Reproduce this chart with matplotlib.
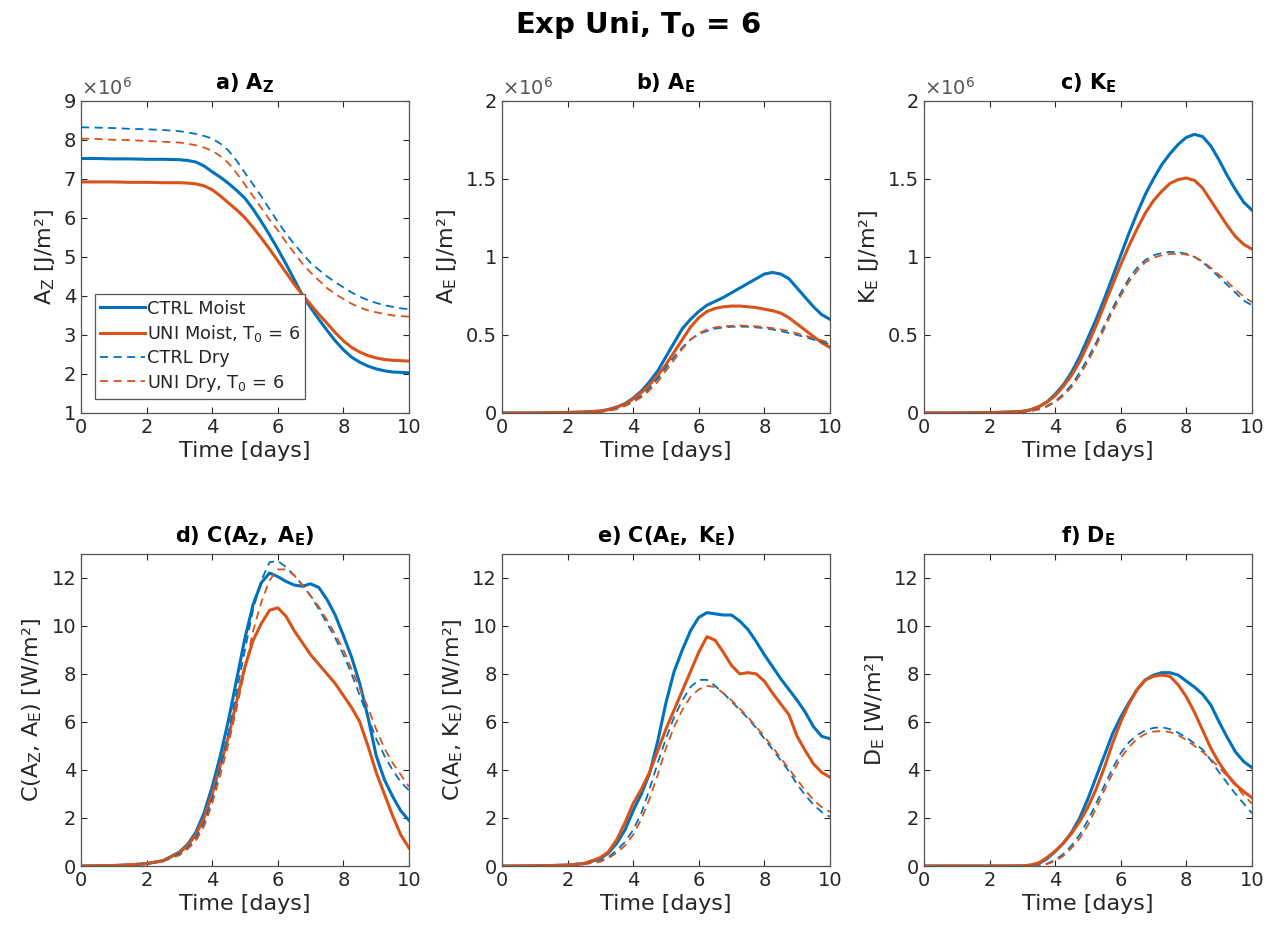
import numpy as np
import matplotlib
matplotlib.use("Agg")
import matplotlib.pyplot as plt
from matplotlib.ticker import FuncFormatter

# Energy cycle diagnostics, CTRL vs UNI runs (moist and dry), T0 = 6

time = [0, 0.5, 1, 1.5, 2, 2.5,
        3, 3.25, 3.5, 3.75, 4, 4.25, 4.5, 4.75, 5, 5.25, 5.5, 5.75,
        6, 6.25, 6.5, 6.75, 7, 7.25, 7.5, 7.75, 8, 8.25, 8.5, 8.75,
        9, 9.25, 9.5, 9.75, 10]

# a) zonal available potential energy, units of 1e6 J/m2
az_ctrl_moist = [7.52, 7.52, 7.51, 7.51, 7.50, 7.50,
                 7.49, 7.47, 7.43, 7.33, 7.18, 7.04, 6.88, 6.70, 6.50, 6.22, 5.90, 5.56,
                 5.20, 4.82, 4.42, 4.02, 3.70, 3.40, 3.12, 2.85, 2.62, 2.43, 2.30, 2.20,
                 2.13, 2.08, 2.05, 2.04, 2.03]
az_uni_moist = [6.92, 6.92, 6.92, 6.91, 6.91, 6.90,
                6.90, 6.89, 6.87, 6.82, 6.72, 6.56, 6.38, 6.20, 6.00, 5.75, 5.48, 5.20,
                4.90, 4.60, 4.30, 4.03, 3.78, 3.53, 3.30, 3.06, 2.85, 2.68, 2.56, 2.47,
                2.41, 2.37, 2.35, 2.34, 2.33]
az_ctrl_dry = [8.32, 8.31, 8.30, 8.28, 8.27, 8.25,
               8.22, 8.19, 8.15, 8.10, 8.03, 7.90, 7.72, 7.46, 7.15, 6.85, 6.55, 6.22,
               5.90, 5.60, 5.33, 5.08, 4.85, 4.67, 4.50, 4.35, 4.22, 4.09, 3.98, 3.89,
               3.82, 3.76, 3.72, 3.68, 3.66]
az_uni_dry = [8.03, 8.02, 8.00, 7.99, 7.97, 7.95,
              7.93, 7.90, 7.86, 7.80, 7.72, 7.58, 7.40, 7.14, 6.85, 6.55, 6.25, 5.95,
              5.68, 5.38, 5.10, 4.83, 4.60, 4.40, 4.20, 4.05, 3.92, 3.80, 3.70, 3.63,
              3.58, 3.54, 3.50, 3.48, 3.47]

# b) eddy available potential energy, units of 1e6 J/m2
ae_ctrl_moist = [0, 0, 0, 0.001, 0.003, 0.006,
                 0.012, 0.022, 0.038, 0.06, 0.095, 0.14, 0.20, 0.27, 0.36, 0.45, 0.54, 0.60,
                 0.65, 0.69, 0.715, 0.74, 0.77, 0.80, 0.83, 0.86, 0.89, 0.90, 0.89, 0.86,
                 0.80, 0.74, 0.68, 0.63, 0.60]
ae_uni_moist = [0, 0, 0, 0.001, 0.003, 0.006,
                0.012, 0.022, 0.036, 0.058, 0.09, 0.13, 0.18, 0.24, 0.31, 0.39, 0.47, 0.55,
                0.61, 0.65, 0.67, 0.68, 0.685, 0.685, 0.68, 0.675, 0.665, 0.655, 0.64, 0.61,
                0.57, 0.53, 0.49, 0.45, 0.42]
ae_ctrl_dry = [0, 0, 0, 0, 0.002, 0.004,
               0.008, 0.015, 0.028, 0.048, 0.075, 0.11, 0.16, 0.22, 0.29, 0.36, 0.42, 0.47,
               0.505, 0.525, 0.54, 0.548, 0.552, 0.553, 0.552, 0.548, 0.543, 0.535, 0.525, 0.512,
               0.50, 0.485, 0.47, 0.455, 0.44]
ae_uni_dry = [0, 0, 0, 0, 0.002, 0.004,
              0.007, 0.013, 0.025, 0.044, 0.07, 0.10, 0.145, 0.20, 0.27, 0.34, 0.41, 0.47,
              0.51, 0.535, 0.548, 0.555, 0.558, 0.56, 0.558, 0.555, 0.55, 0.543, 0.535, 0.523,
              0.51, 0.495, 0.48, 0.465, 0.45]

# c) eddy kinetic energy, units of 1e6 J/m2
ke_ctrl_moist = [0, 0, 0, 0.001, 0.002, 0.005,
                 0.01, 0.02, 0.04, 0.07, 0.12, 0.18, 0.26, 0.36, 0.48, 0.60, 0.73, 0.87,
                 1.01, 1.15, 1.28, 1.40, 1.50, 1.59, 1.66, 1.72, 1.765, 1.785, 1.77, 1.71,
                 1.62, 1.52, 1.43, 1.35, 1.30]
ke_uni_moist = [0, 0, 0, 0.001, 0.002, 0.005,
                0.01, 0.02, 0.04, 0.07, 0.11, 0.17, 0.24, 0.33, 0.44, 0.56, 0.69, 0.82,
                0.95, 1.07, 1.18, 1.28, 1.36, 1.42, 1.47, 1.495, 1.505, 1.49, 1.44, 1.36,
                1.28, 1.20, 1.13, 1.08, 1.05]
ke_ctrl_dry = [0, 0, 0, 0, 0.001, 0.003,
               0.007, 0.013, 0.025, 0.045, 0.075, 0.12, 0.18, 0.26, 0.35, 0.45, 0.56, 0.67,
               0.77, 0.86, 0.93, 0.98, 1.01, 1.025, 1.032, 1.03, 1.02, 1.00, 0.965, 0.92,
               0.87, 0.82, 0.77, 0.72, 0.69]
ke_uni_dry = [0, 0, 0, 0, 0.001, 0.003,
              0.006, 0.012, 0.022, 0.04, 0.068, 0.11, 0.165, 0.24, 0.33, 0.43, 0.54, 0.65,
              0.75, 0.84, 0.91, 0.965, 0.995, 1.01, 1.018, 1.02, 1.015, 1.00, 0.97, 0.93,
              0.885, 0.84, 0.79, 0.745, 0.71]

# d) conversion Az -> Ae, W/m2
caz_ctrl_moist = [0, 0.01, 0.02, 0.05, 0.10, 0.22,
                  0.58, 0.90, 1.40, 2.20, 3.30, 4.60, 6.10, 7.80, 9.50, 10.9, 11.8, 12.2,
                  12.05, 11.85, 11.7, 11.65, 11.75, 11.6, 11.1, 10.45, 9.6, 8.7, 7.6, 6.2,
                  4.6, 3.6, 2.9, 2.3, 1.9]
caz_uni_moist = [0, 0.01, 0.02, 0.05, 0.10, 0.22,
                 0.55, 0.85, 1.30, 2.00, 3.00, 4.20, 5.40, 6.90, 8.30, 9.40, 10.1, 10.65,
                 10.75, 10.4, 9.8, 9.3, 8.8, 8.4, 8.0, 7.6, 7.1, 6.6, 6.0, 5.0,
                 3.9, 3.0, 2.1, 1.3, 0.75]
caz_ctrl_dry = [0, 0.01, 0.02, 0.04, 0.09, 0.20,
                0.50, 0.75, 1.15, 1.80, 2.80, 4.10, 5.60, 7.30, 9.00, 10.7, 11.9, 12.65,
                12.7, 12.45, 12.1, 11.7, 11.25, 10.7, 10.1, 9.5, 8.8, 8.0, 7.1, 6.2,
                5.3, 4.6, 4.0, 3.5, 3.15]
caz_uni_dry = [0, 0.01, 0.02, 0.04, 0.09, 0.20,
               0.45, 0.70, 1.05, 1.65, 2.60, 3.80, 5.10, 6.60, 8.20, 9.80, 11.0, 11.9,
               12.35, 12.35, 12.1, 11.7, 11.25, 10.8, 10.25, 9.65, 9.0, 8.2, 7.4, 6.6,
               5.7, 4.9, 4.3, 3.8, 3.3]

# e) conversion Ae -> Ke, W/m2
cae_ctrl_moist = [0, 0, 0.01, 0.02, 0.04, 0.10,
                  0.30, 0.55, 0.95, 1.50, 2.30, 3.00, 3.85, 5.20, 6.80, 8.10, 9.00, 9.80,
                  10.35, 10.55, 10.5, 10.45, 10.45, 10.2, 9.85, 9.35, 8.8, 8.3, 7.8, 7.35,
                  6.9, 6.4, 5.8, 5.4, 5.3]
cae_uni_moist = [0, 0, 0.01, 0.02, 0.04, 0.10,
                 0.35, 0.60, 1.10, 1.80, 2.60, 3.20, 3.90, 4.80, 5.70, 6.50, 7.30, 8.10,
                 8.90, 9.55, 9.40, 8.90, 8.35, 8.00, 8.05, 8.00, 7.70, 7.20, 6.75, 6.30,
                 5.40, 4.80, 4.25, 3.90, 3.70]
cae_ctrl_dry = [0, 0, 0, 0.01, 0.03, 0.08,
                0.20, 0.38, 0.65, 1.00, 1.50, 2.20, 3.20, 4.30, 5.30, 6.20, 6.90, 7.45,
                7.75, 7.75, 7.50, 7.20, 6.85, 6.50, 6.15, 5.75, 5.30, 4.85, 4.40, 3.95,
                3.40, 2.95, 2.55, 2.25, 2.05]
cae_uni_dry = [0, 0, 0, 0.01, 0.03, 0.08,
               0.18, 0.33, 0.55, 0.85, 1.30, 1.95, 2.80, 3.80, 4.90, 5.80, 6.50, 7.05,
               7.35, 7.50, 7.45, 7.20, 6.90, 6.55, 6.20, 5.80, 5.40, 4.95, 4.50, 4.05,
               3.60, 3.15, 2.75, 2.45, 2.25]

# f) eddy dissipation, W/m2
de_ctrl_moist = [0, 0, 0, 0, 0, 0,
                 0.005, 0.03, 0.10, 0.30, 0.60, 0.95, 1.40, 2.00, 2.80, 3.70, 4.60, 5.50,
                 6.20, 6.80, 7.35, 7.75, 7.95, 8.05, 8.05, 7.95, 7.70, 7.45, 7.15, 6.70,
                 6.00, 5.35, 4.75, 4.35, 4.10]
de_uni_moist = [0, 0, 0, 0, 0, 0,
                0.005, 0.04, 0.13, 0.35, 0.62, 0.95, 1.35, 1.85, 2.45, 3.20, 4.10, 5.10,
                6.00, 6.75, 7.35, 7.75, 7.90, 7.95, 7.90, 7.55, 7.05, 6.40, 5.65, 4.90,
                4.30, 3.80, 3.40, 3.10, 2.85]
de_ctrl_dry = [0, 0, 0, 0, 0, 0,
               0, 0.01, 0.03, 0.10, 0.25, 0.50, 0.85, 1.30, 1.90, 2.60, 3.35, 4.05,
               4.70, 5.15, 5.45, 5.65, 5.75, 5.78, 5.70, 5.55, 5.35, 5.10, 4.85, 4.40,
               3.90, 3.45, 3.00, 2.60, 2.20]
de_uni_dry = [0, 0, 0, 0, 0, 0,
              0, 0.005, 0.02, 0.08, 0.20, 0.42, 0.75, 1.15, 1.70, 2.40, 3.15, 3.85,
              4.50, 4.95, 5.30, 5.50, 5.60, 5.62, 5.58, 5.45, 5.25, 5.00, 4.75, 4.45,
              4.10, 3.75, 3.35, 2.95, 2.60]

run_labels = ["CTRL Moist", r"UNI Moist, T$_\mathrm{0}$ = 6",
              "CTRL Dry", r"UNI Dry, T$_\mathrm{0}$ = 6"]
panel_titles = [r"a) $\mathbf{A_Z}$", r"b) $\mathbf{A_E}$", r"c) $\mathbf{K_E}$",
                r"d) $\mathbf{C(A_Z,\ A_E)}$", r"e) $\mathbf{C(A_E,\ K_E)}$", r"f) $\mathbf{D_E}$"]
panel_ylabels = [r"A$_\mathrm{Z}$ [J/m²]", r"A$_\mathrm{E}$ [J/m²]", r"K$_\mathrm{E}$ [J/m²]",
                 r"C(A$_\mathrm{Z}$, A$_\mathrm{E}$) [W/m²]", r"C(A$_\mathrm{E}$, K$_\mathrm{E}$) [W/m²]",
                 r"D$_\mathrm{E}$ [W/m²]"]
panel_data = [
    [az_ctrl_moist, az_uni_moist, az_ctrl_dry, az_uni_dry],
    [ae_ctrl_moist, ae_uni_moist, ae_ctrl_dry, ae_uni_dry],
    [ke_ctrl_moist, ke_uni_moist, ke_ctrl_dry, ke_uni_dry],
    [caz_ctrl_moist, caz_uni_moist, caz_ctrl_dry, caz_uni_dry],
    [cae_ctrl_moist, cae_uni_moist, cae_ctrl_dry, cae_uni_dry],
    [de_ctrl_moist, de_uni_moist, de_ctrl_dry, de_uni_dry],
]

blue = "#0072BD"
orange = "#D95319"
ink = "#262626"
line_colors = [blue, orange, blue, orange]

plt.rcParams["font.family"] = "DejaVu Sans"
plt.rcParams["mathtext.fontset"] = "dejavusans"

fig = plt.figure(figsize=(12.76, 9.32), dpi=100)

# axes boxes, left/bottom/width/height in figure fractions
lefts = [0.0635, 0.3934, 0.7241]
bottoms = [0.5569, 0.0708]
width = 0.257
height = 0.335

axes = []
for row in range(2):
    for col in range(3):
        axes.append(fig.add_axes([lefts[col], bottoms[row], width, height]))

for i, ax in enumerate(axes):
    series = panel_data[i]
    for j in range(4):
        if j < 2:
            ax.plot(time, series[j], color=line_colors[j], lw=2.2, label=run_labels[j])
        else:
            ax.plot(time, series[j], color=line_colors[j], lw=1.3, dashes=(4.5, 3),
                    label=run_labels[j])

    ax.set_xlim(0, 10)
    ax.set_xticks([0, 2, 4, 6, 8, 10])
    if i == 0:
        ax.set_ylim(1, 9)
        ax.set_yticks(range(1, 10))
    elif i < 3:
        ax.set_ylim(0, 2)
        ax.set_yticks([0, 0.5, 1, 1.5, 2])
        ax.yaxis.set_major_formatter(FuncFormatter(lambda v, p: "%g" % v))
    else:
        ax.set_ylim(0, 13)
        ax.set_yticks([0, 2, 4, 6, 8, 10, 12])

    # energies are plotted in units of 1e6
    if i < 3:
        ax.text(0.0, 1.006, r"$\times$10$^\mathrm{6}$", transform=ax.transAxes,
                ha="left", va="bottom", fontsize=14, color="#555555")

    ax.set_title(panel_titles[i], fontsize=15, fontweight="bold", color="black", pad=8)
    ax.set_ylabel(panel_ylabels[i], fontsize=16, color=ink, labelpad=5)
    ax.set_xlabel("Time [days]", fontsize=16, color=ink, labelpad=3)

    ax.tick_params(direction="in", top=True, right=True, length=4, width=0.8,
                   colors=ink, labelsize=14)
    for side in ax.spines.values():
        side.set_color("#555555")
        side.set_linewidth(0.9)

leg = axes[0].legend(loc="lower left", bbox_to_anchor=(0.043, 0.045), fontsize=12.8,
                     fancybox=False, framealpha=1, edgecolor="#555555", handlelength=2.5,
                     handletextpad=0.1, borderpad=0.3, labelspacing=0.3,
                     borderaxespad=0)
leg.get_frame().set_linewidth(0.9)
for txt in leg.get_texts():
    txt.set_color(ink)

fig.suptitle(r"Exp Uni, $\mathbf{T_0}$ = 6", fontsize=21, fontweight="bold", y=0.99)

fig.savefig("out.png", dpi=100)
